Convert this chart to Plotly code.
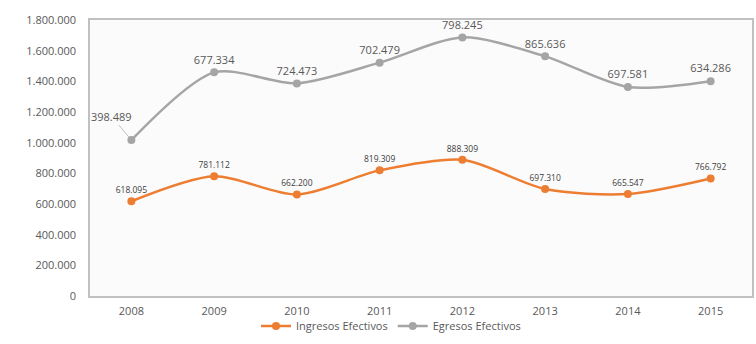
import plotly.graph_objects as go

years = ["2008", "2009", "2010", "2011", "2012", "2013", "2014", "2015"]
ingresos = [618095, 781112, 662200, 819309, 888309, 697310, 665547, 766792]
egresos = [398489, 677334, 724473, 702479, 798245, 865636, 697581, 634286]
y_ticks = [0, 200000, 400000, 600000, 800000, 1000000, 1200000, 1400000, 1600000, 1800000]

def fmt(v):
    return f"{v:,}".replace(",", ".")

ORANGE = "#ED7D31"
GRAY = "#A5A5A5"
TXT = "#595959"

fig = go.Figure()
fig.add_trace(go.Scatter(
    x=years, y=ingresos, name="Ingresos Efectivos",
    stackgroup="s", fill="none", mode="lines+markers+text",
    line=dict(color=ORANGE, width=2.5, shape="spline", smoothing=0.8),
    marker=dict(color=ORANGE, size=8),
    text=[fmt(v) for v in ingresos], textposition="top center",
    textfont=dict(family="Open Sans", size=8.5, color="#404040"),
))
eg_text = ["" if i == 0 else fmt(v) for i, v in enumerate(egresos)]
fig.add_trace(go.Scatter(
    x=years, y=egresos, name="Egresos Efectivos",
    stackgroup="s", fill="none", mode="lines+markers+text",
    line=dict(color=GRAY, width=2.5, shape="spline", smoothing=0.8),
    marker=dict(color=GRAY, size=8),
    text=eg_text, textposition="top center",
    textfont=dict(family="Open Sans", size=11, color=TXT),
))
fig.add_annotation(
    x=0, y=ingresos[0] + egresos[0], text=fmt(egresos[0]),
    showarrow=True, arrowhead=0, arrowwidth=1, arrowcolor="#bfbfbf",
    ax=-20, ay=-24, standoff=4,
    font=dict(family="Open Sans", size=11, color=TXT),
)

fig.update_layout(
    width=756, height=344,
    margin=dict(l=90, r=4, t=20, b=48, autoexpand=False),
    paper_bgcolor="white", plot_bgcolor="#fbfbfb",
    font=dict(family="Open Sans", size=11, color=TXT),
    separators=",.",
    showlegend=True,
    legend=dict(orientation="h", x=(391 - 90) / 662, xref="paper", xanchor="center",
                yref="container", y=1 - 326 / 344, yanchor="middle",
                font=dict(size=11, color=TXT), itemwidth=30,
                bgcolor="rgba(0,0,0,0)"),
)
fig.update_xaxes(
    type="category", range=[-0.5, 7.5], showgrid=False, automargin=False,
    showline=True, mirror=True, linecolor="#c0c0c0", linewidth=1.5,
    ticks="", ticklabelstandoff=4, tickfont=dict(size=11, color=TXT),
)
fig.update_yaxes(
    range=[0, 1800000], tickvals=y_ticks, ticktext=[fmt(v) for v in y_ticks],
    showgrid=False, zeroline=False, automargin=False,
    showline=True, mirror=True, linecolor="#c0c0c0", linewidth=1.5,
    ticks="", ticklabelstandoff=10, tickfont=dict(size=11, color=TXT),
)

post = (
    "document.body.style.margin='0px';"
    "document.body.style.overflow='hidden';"
    "var gd=document.getElementById('{plot_id}');"
    "Plotly.relayout(gd,{width:756,height:344});"
)
fig.write_html("out.html", config={"responsive": False, "displayModeBar": False},
               post_script=post)
